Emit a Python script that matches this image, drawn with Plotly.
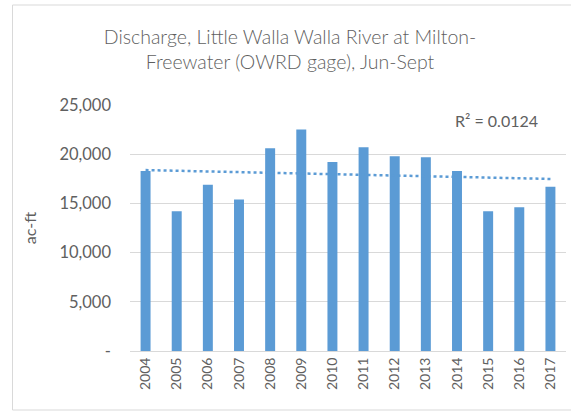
import numpy as np
import plotly.graph_objects as go

# Jun-Sept discharge volume by year (acre-feet)
years = [2004, 2005, 2006, 2007, 2008, 2009, 2010, 2011, 2012, 2013, 2014, 2015, 2016, 2017]
discharge_acft = [18300, 14200, 16900, 15400, 20600, 22500, 19200, 20700, 19800, 19700,
                  18300, 14200, 14600, 16700]
y_tickvals = [0, 5000, 10000, 15000, 20000, 25000]
y_ticktext = ["-", "5,000", "10,000", "15,000", "20,000", "25,000"]
r2_label = "R² = 0.0124"

W, H = 571, 415
ML, MR, MT, MB = 130, 5, 105, 64
PW, PH = W - ML - MR, H - MT - MB

BAR = "#5B9BD5"
TXT = "#595959"
FONT = "Lato"

# linear trendline fitted to the bars
slope, intercept = np.polyfit(years, discharge_acft, 1)
trend_x = [years[0], years[-1]]
trend_y = [slope * x + intercept for x in trend_x]

fig = go.Figure()
fig.add_trace(go.Bar(x=years, y=discharge_acft, marker_color=BAR, marker_line_width=0,
                     width=0.32, showlegend=False))
fig.add_trace(go.Scatter(x=trend_x, y=trend_y, mode="lines",
                         line=dict(color=BAR, width=2.5, dash="dot"), showlegend=False))

def px_x(p):
    return (p - ML) / PW

def px_y(p):
    return 1 - (p - MT) / PH

# outer chart border
fig.add_shape(type="rect", xref="paper", yref="paper",
              x0=px_x(12.5), x1=px_x(W + 5), y0=px_y(410), y1=px_y(5),
              line=dict(color="#D9D9D9", width=1), layer="below")

fig.add_annotation(text=r2_label, xref="paper", yref="paper", x=px_x(496), y=px_y(120),
                   xanchor="center", yanchor="middle", showarrow=False,
                   font=dict(family=FONT, size=16, color="#606060"))

fig.update_layout(
    width=W, height=H,
    margin=dict(l=ML, r=MR, t=MT, b=MB),
    paper_bgcolor="white", plot_bgcolor="white",
    title=dict(text="Discharge, Little Walla Walla River at Milton-<br>Freewater (OWRD gage), Jun-Sept",
               x=px_x(290), xanchor="center", xref="paper", y=1 - 44 / H, yanchor="middle",
               font=dict(family=FONT, size=19.5, color="#5f5f5f", weight=300)),
    font=dict(family=FONT, color=TXT),
    bargap=0.68,
)
fig.update_xaxes(range=[years[0] - 0.5, years[-1] + 0.5], tickmode="array", tickvals=years,
                 ticktext=[str(y) for y in years], tickangle=-90,
                 tickfont=dict(family=FONT, size=14, color="#606060"),
                 showgrid=False, showline=True, linecolor="#D9D9D9", linewidth=1,
                 ticks="", zeroline=False)
fig.update_yaxes(range=[0, 25000], tickmode="array", tickvals=y_tickvals, ticktext=y_ticktext,
                 tickfont=dict(family=FONT, size=16.5, color="#606060"), ticklabelstandoff=18,
                 showgrid=True, gridcolor="#D9D9D9", gridwidth=1, zeroline=False,
                 showline=False, ticks="",
                 title=dict(text="ac-ft", font=dict(family=FONT, size=16, color="#606060"),
                            standoff=18))

fig.write_html("out.html")
